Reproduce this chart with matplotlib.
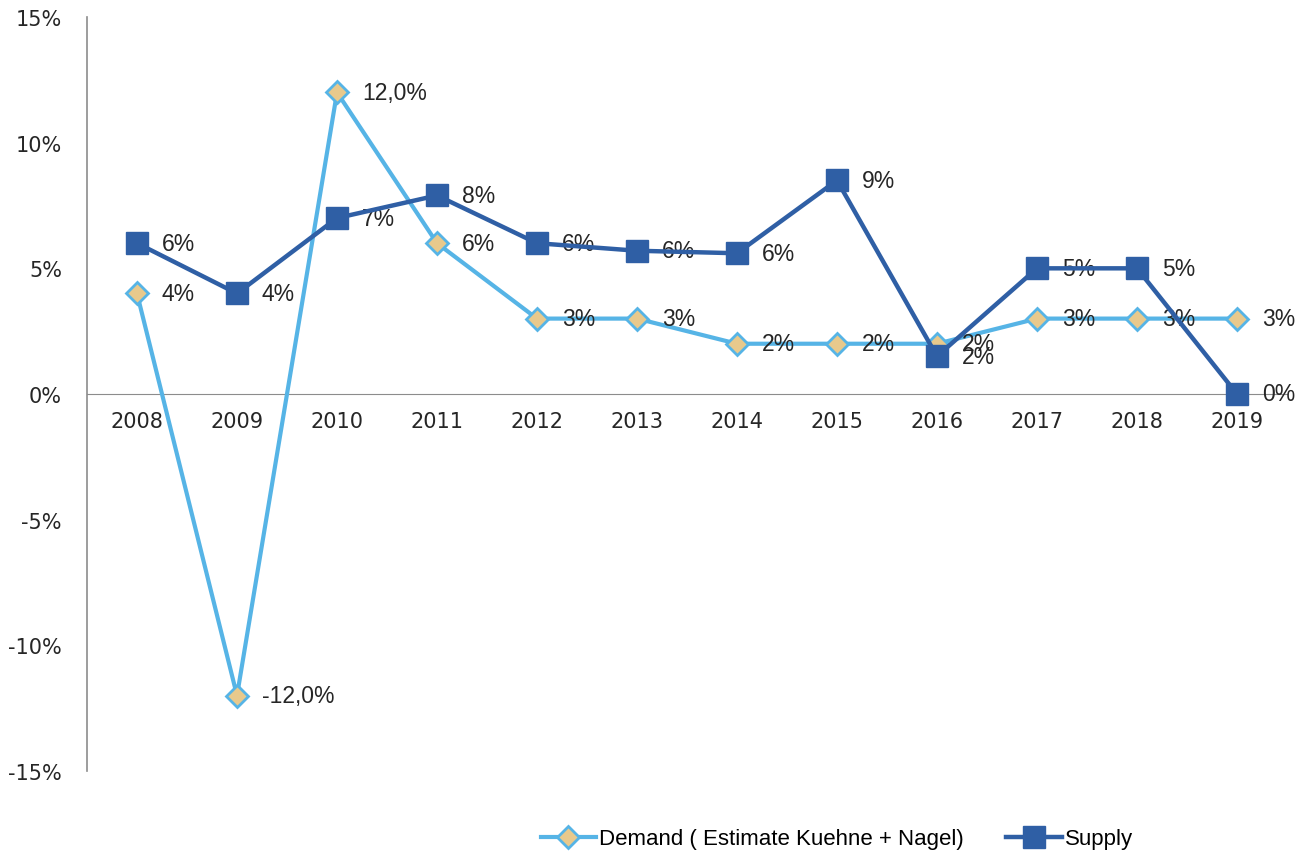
import math
import matplotlib
matplotlib.use('Agg')
import matplotlib.pyplot as plt

years = ['2008', '2009', '2010', '2011', '2012', '2013', '2014', '2015', '2016', '2017', '2018', '2019']
demand = [4, -12, 12, 6, 3, 3, 2, 2, 2, 3, 3, 3]
supply = [6.0, 4.0, 7.0, 7.9, 6.0, 5.7, 5.6, 8.5, 1.5, 5.0, 5.0, 0.0]
yticks = [-15, -10, -5, 0, 5, 10, 15]


def fmt(v):
    if abs(v) >= 10:
        return f'{v:.1f}%'.replace('.', ',')
    return f'{int(math.floor(v + 0.5))}%'


light = '#56B4E6'
dark = '#2F5FA5'
tan = '#E8C98C'
gray = '#8C8C8C'

fig = plt.figure(figsize=(12.97, 8.53), dpi=100)
ax = fig.add_axes([87 / 1297, 1 - 772 / 853, 1200 / 1297, 754 / 853])

x = list(range(len(years)))
ax.plot(x, demand, color=light, lw=3, marker='D', ms=11, mfc=tan, mec=light, mew=2,
        label='Demand ( Estimate Kuehne + Nagel)', zorder=3)
ax.plot(x, supply, color=dark, lw=3.2, marker='s', ms=16, mfc=dark, mec=dark,
        label='Supply', zorder=4)

for xi, v in zip(x, demand):
    ax.annotate(fmt(v), (xi, v), xytext=(18, 0), textcoords='offset points',
                ha='left', va='center', fontsize=16.5, family='Liberation Sans', color='#262626')
for xi, v in zip(x, supply):
    ax.annotate(fmt(v), (xi, v), xytext=(18, 0), textcoords='offset points',
                ha='left', va='center', fontsize=16.5, family='Liberation Sans', color='#262626')

for s in ['top', 'right']:
    ax.spines[s].set_visible(False)
ax.spines['bottom'].set_position(('data', 0))
ax.spines['bottom'].set_color(gray)
ax.spines['left'].set_color(gray)
ax.spines['left'].set_linewidth(1.2)

ax.set_xlim(-0.5, len(years) - 0.5)
ax.set_ylim(-15, 15)
ax.set_xticks(x)
ax.set_xticklabels(years, fontsize=15)
ax.set_yticks(yticks)
ax.set_yticklabels([f'{t}%' for t in yticks], fontsize=15)
ax.tick_params(axis='both', length=0, colors='#262626')
ax.tick_params(axis='y', pad=18)
ax.tick_params(axis='x', pad=12)

fig.legend(loc='center', bbox_to_anchor=(837 / 1297, 1 - 840 / 853), ncol=2, frameon=False,
           prop={'family': 'Liberation Sans', 'size': 16}, handlelength=2.5, columnspacing=1.9,
           handletextpad=0.15)

fig.savefig('out.png', dpi=100)
